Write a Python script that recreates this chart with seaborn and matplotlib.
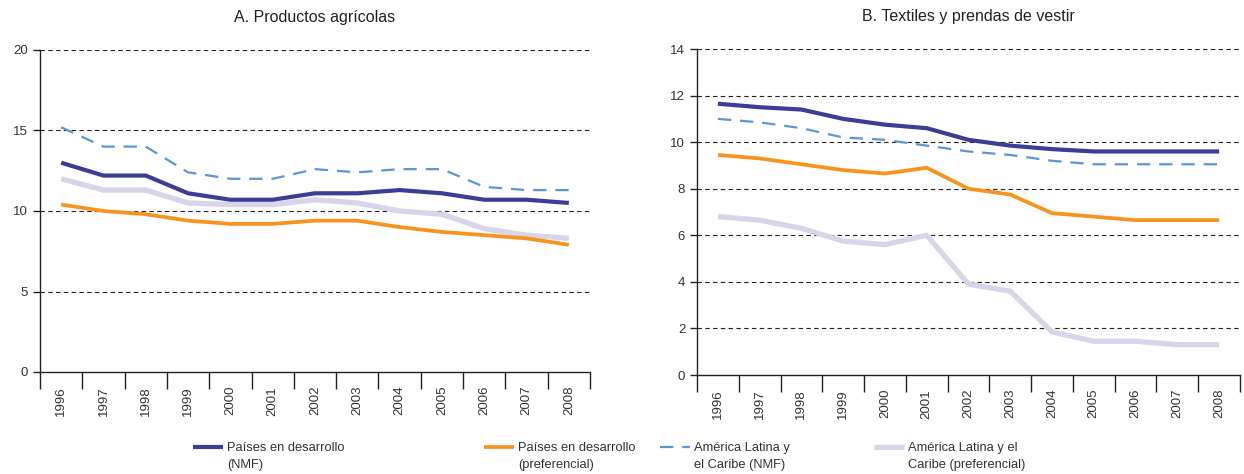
import pandas as pd
import numpy as np
import seaborn as sns
import matplotlib.pyplot as plt
from matplotlib.ticker import MultipleLocator

# data
years = list(range(1996, 2009))
series_names = ["Países en desarrollo\n(NMF)", "Países en desarrollo\n(preferencial)",
                "América Latina y\nel Caribe (NMF)", "América Latina y el\nCaribe (preferencial)"]

agri_dev_nmf = [13.0, 12.2, 12.2, 11.1, 10.7, 10.7, 11.1, 11.1, 11.3, 11.1, 10.7, 10.7, 10.5]
agri_dev_pref = [10.4, 10.0, 9.8, 9.4, 9.2, 9.2, 9.4, 9.4, 9.0, 8.7, 8.5, 8.3, 7.9]
agri_lac_nmf = [15.2, 14.0, 14.0, 12.4, 12.0, 12.0, 12.6, 12.4, 12.6, 12.6, 11.5, 11.3, 11.3]
agri_lac_pref = [12.0, 11.3, 11.3, 10.5, 10.4, 10.4, 10.7, 10.5, 10.0, 9.8, 8.9, 8.5, 8.3]

text_dev_nmf = [11.65, 11.5, 11.4, 11.0, 10.75, 10.6, 10.1, 9.85, 9.7, 9.6, 9.6, 9.6, 9.6]
text_dev_pref = [9.45, 9.3, 9.05, 8.8, 8.65, 8.9, 8.0, 7.75, 6.95, 6.8, 6.65, 6.65, 6.65]
text_lac_nmf = [11.0, 10.85, 10.6, 10.2, 10.1, 9.85, 9.6, 9.45, 9.2, 9.05, 9.05, 9.05, 9.05]
text_lac_pref = [6.8, 6.65, 6.3, 5.75, 5.6, 6.0, 3.9, 3.6, 1.85, 1.45, 1.45, 1.3, 1.3]

colors = ["#3b3d96", "#f7941d", "#5b97d6", "#d8d4e9"]
widths = [3.0, 2.7, 1.6, 3.8]
styles = ["-", "-", (0, (6, 4)), "-"]
draw_order = [3, 2, 0, 1]

sns.set_theme(style="white")
plt.rcParams['font.family'] = ['Liberation Sans', 'DejaVu Sans']

fig = plt.figure(figsize=(12.44, 4.74), dpi=100)
ax1 = fig.add_axes([40 / 1244, 1 - 372 / 474, 550 / 1244, 322 / 474])
ax2 = fig.add_axes([697 / 1244, 1 - 375 / 474, 543 / 1244, 326 / 474])


def draw_panel(ax, values, title, ymax, step):
    df = pd.DataFrame({"year": years * 4,
                       "value": sum(values, []),
                       "serie": np.repeat(series_names, len(years))})
    for i in draw_order:
        sub = df[df["serie"] == series_names[i]]
        sns.lineplot(data=sub, x="year", y="value", ax=ax, color=colors[i],
                     linewidth=widths[i], linestyle=styles[i], label=series_names[i],
                     solid_capstyle="butt", dash_capstyle="butt")
    ax.set_xlim(1995.5, 2008.5)
    ax.set_ylim(0, ymax)
    ax.yaxis.set_major_locator(MultipleLocator(step))
    for y in np.arange(step, ymax + step / 2, step):
        ax.axhline(y, color="#222222", linewidth=0.8, linestyle=(0, (4, 3)), zorder=0)
    ax.set_xticks(years)
    ax.set_xticklabels([str(y) for y in years], rotation=90, fontsize=9.5, color="#333333")
    ax.set_xticks(np.arange(1995.5, 2009, 1), minor=True)
    ax.tick_params(axis="x", which="major", length=0, pad=10, bottom=True)
    ax.tick_params(axis="x", which="minor", length=12, width=1, color="#222222",
                   direction="out", bottom=True)
    ax.tick_params(axis="y", length=5, width=1, color="#222222", direction="out", labelsize=9.5,
                   labelcolor="#333333", left=True)
    ax.set_xlabel("")
    ax.set_ylabel("")
    ax.set_title(title, fontsize=11.5, color="#222222", pad=20)
    for s in ["top", "right"]:
        ax.spines[s].set_visible(False)
    for s in ["left", "bottom"]:
        ax.spines[s].set_color("#222222")
        ax.spines[s].set_linewidth(1)
    ax.get_legend().remove()


draw_panel(ax1, [agri_dev_nmf, agri_dev_pref, agri_lac_nmf, agri_lac_pref],
           "A. Productos agrícolas", 20, 5)
draw_panel(ax2, [text_dev_nmf, text_dev_pref, text_lac_nmf, text_lac_pref],
           "B. Textiles y prendas de vestir", 14, 2)

# one legend per entry: handle beside the first line, second line as plain text
handles, labels = ax1.get_legend_handles_labels()
lookup = dict(zip(labels, handles))
legend_x = [193, 484, 660, 874]
for i, name in enumerate(series_names):
    first, second = name.split("\n")
    fig.legend([lookup[name]], [first], loc="upper left",
               bbox_to_anchor=(legend_x[i] / 1244, 1 - 442 / 474),
               frameon=False, fontsize=9.3, handlelength=2.3, handletextpad=0.3,
               borderaxespad=0, borderpad=0, labelcolor="#333333")
    x_text = (legend_x[i] + 34) / 1244
    fig.text(x_text, 1 - 465 / 474, second, fontsize=9.3, color="#333333", va="center")

fig.savefig("out.png", dpi=100)
